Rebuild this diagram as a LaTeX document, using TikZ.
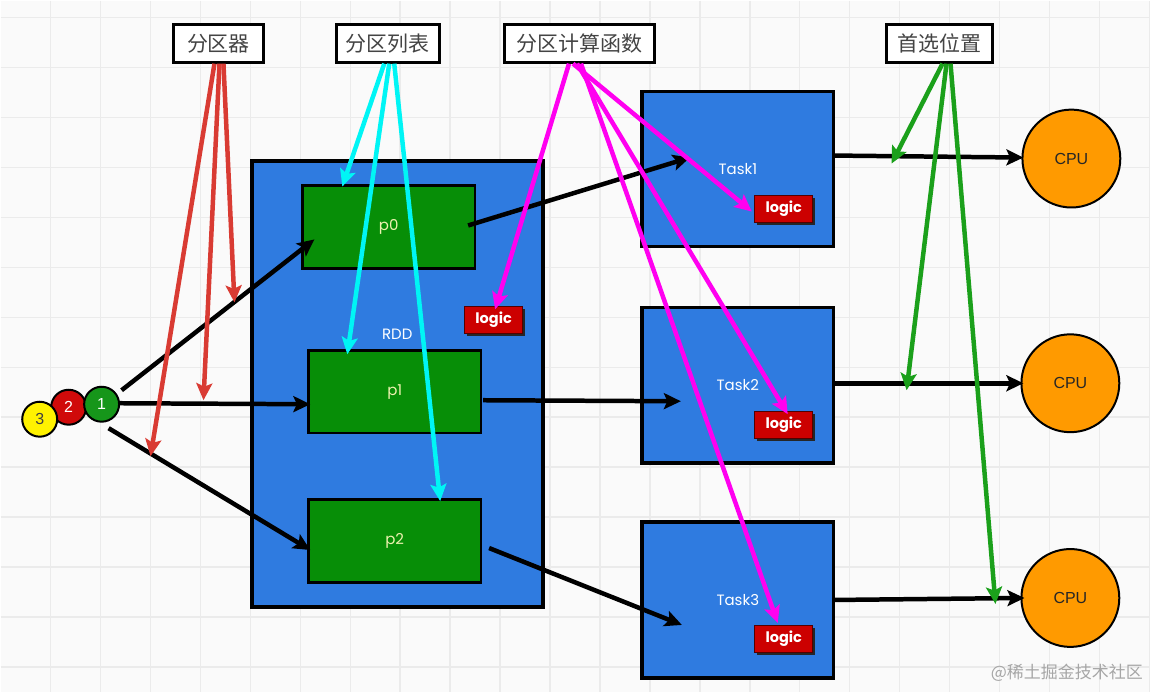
\documentclass[tikz,border=0pt]{standalone}
\usepackage{fontspec}
\setmainfont{Liberation Sans}
\newfontfamily\cjk{Noto Sans CJK SC}
\newfontfamily\pop{Poppins}
\usetikzlibrary{arrows.meta,shadows}
\definecolor{bg}{HTML}{FAFAFA}
\definecolor{gridc}{HTML}{EBEBEB}
\definecolor{rddblue}{HTML}{2F7BE0}
\definecolor{pgreen}{HTML}{078E07}
\definecolor{pyellow}{HTML}{EEF2B0}
\definecolor{logicred}{HTML}{CC0000}
\definecolor{cpuorange}{HTML}{FF9A00}
\definecolor{arrred}{HTML}{D93B33}
\definecolor{arrgreen}{HTML}{1BA01B}
\definecolor{arrcyan}{HTML}{00F5F5}
\definecolor{arrmag}{HTML}{FF00F0}
\definecolor{lbltext}{HTML}{444444}
\definecolor{ballred}{HTML}{D00A0A}
\definecolor{ballgreen}{HTML}{16961A}
\definecolor{ballyellow}{HTML}{FFF200}
\begin{document}
\begin{tikzpicture}[x=1pt,y=-1pt,
 lbl/.style={draw=black,line width=3pt,fill=white,inner sep=0pt,font=\cjk\fontsize{21}{21}\selectfont,text=lbltext,minimum height=38pt},
 rddbox/.style={draw=black,line width=4pt,fill=rddblue,inner sep=0pt},
 part/.style={draw=black,line width=2.5pt,fill=pgreen,inner sep=0pt,minimum width=173pt,minimum height=83pt,font=\pop\fontsize{15}{15}\selectfont,text=pyellow},
 task/.style={draw=black,line width=3.5pt,fill=rddblue,minimum width=192pt,minimum height=155pt,inner sep=0pt,font=\pop\fontsize{15}{15}\selectfont,text=white},
 logicbox/.style={draw=black!60!logicred,line width=1pt,fill=logicred,minimum width=58pt,minimum height=27pt,inner sep=0pt,font=\pop\bfseries\fontsize{14.5}{14.5}\selectfont,text=white,general shadow={fill=black!85,shadow xshift=2.5pt,shadow yshift=-3pt}},
 cpu/.style={circle,draw=black,line width=2pt,fill=cpuorange,minimum size=98pt,inner sep=0pt,font=\fontsize{16}{16}\selectfont,text=black!85},
 ball/.style={circle,draw=black,line width=2pt,minimum size=35pt,inner sep=0pt,font=\fontsize{16}{16}\selectfont},
 conn/.style={line width=4.5pt,-{Stealth[length=17pt,width=16pt,inset=3.5pt]}},
]
\fill[bg] (0,0) rectangle (1151,692);
\foreach \x in {50,100,...,1150} \draw[gridc,line width=1.5pt] (\x,0) -- (\x,692);
\foreach \y in {17,67,...,667} \draw[gridc,line width=1.5pt] (0,\y) -- (1151,\y);
\useasboundingbox (0,0) rectangle (1151,692);

% RDD and partitions
\node[rddbox,minimum width=291pt,minimum height=447pt] (rdd) at (397.5,383.5) {};
\node[font=\pop\fontsize{15}{15}\selectfont,text=white] (rddlbl) at (397,334) {RDD};
\node[part] (p0) at (388.5,226.5) {p0};
\node[part] (p1) at (394.5,391.5) {p1};
\node[part] (p2) at (394.5,541) {p2};
\node[logicbox] (lg0) at (493.5,319.5) {logic};

% tasks
\node[task] (t1) at (738,168.5) {Task1};
\node[task,minimum height=156pt] (t2) at (738,385) {Task2};
\node[task,minimum height=156pt] (t3) at (738,600) {Task3};
\node[logicbox] (lg1) at (784,208.5) {logic};
\node[logicbox] (lg2) at (784,424.5) {logic};
\node[logicbox] (lg3) at (784,639) {logic};

% CPUs
\node[cpu] (c1) at (1072,158) {CPU};
\node[cpu] (c2) at (1071,383) {CPU};
\node[cpu] (c3) at (1071,598) {CPU};

% balls
\node[ball,fill=ballred,text=white] (b2) at (68,407) {2};
\node[ball,fill=ballgreen,text=white] (b1) at (101,404) {1};
\node[ball,fill=ballyellow,text=black!75] (b3) at (39,419) {3};

% labels
\node[lbl,minimum width=90pt] (L1) at (218,43) {分区器};
\node[lbl,minimum width=103pt] (L2) at (387.5,43) {分区列表};
\node[lbl,minimum width=151pt] (L3) at (579.5,42.5) {分区计算函数};
\node[lbl,minimum width=106pt] (L4) at (940,43) {首选位置};

% watermark
\node[anchor=east,font=\cjk\fontsize{17}{17}\selectfont,text=black!35] (wm) at (1147,673) {@稀土掘金技术社区};

% coordinates
\coordinate (b1a) at (121,390);
\coordinate (b1b) at (119,403);
\coordinate (b1c) at (108,428);
\coordinate (p0in) at (314,239);
\coordinate (p1in) at (310,404);
\coordinate (p2in) at (310,550);
\coordinate (p0out) at (468,225);
\coordinate (p1out) at (483,400);
\coordinate (p2out) at (489,548);
\coordinate (t1in) at (690,157);
\coordinate (t2in) at (681,401);
\coordinate (t3in) at (682,625);
\coordinate (t1out) at (834,155);
\coordinate (t2out) at (834,383);
\coordinate (t3out) at (834,600);
\coordinate (c1in) at (1024,157);
\coordinate (c2in) at (1024,383);
\coordinate (c3in) at (1025,598);

\coordinate (r0) at (214,63);
\coordinate (r1) at (219,63);
\coordinate (r2) at (223,63);
\coordinate (rt1) at (150,456);
\coordinate (rt2) at (203,400);
\coordinate (rt3) at (234,302);

\coordinate (cy0) at (384,63);
\coordinate (cy1) at (389,63);
\coordinate (cy2) at (394,63);
\coordinate (cyt1) at (342,186);
\coordinate (cyt2) at (347,354);
\coordinate (cyt3) at (440,501);

\coordinate (m0) at (569,63);
\coordinate (m1) at (573,63);
\coordinate (m2) at (577,63);
\coordinate (m3) at (581,63);
\coordinate (mt0) at (495,309);
\coordinate (mt1) at (752,211);
\coordinate (mt2) at (788,414);
\coordinate (mt3) at (778,623);

\coordinate (g0) at (943,63);
\coordinate (g1) at (947,63);
\coordinate (g2) at (951,63);
\coordinate (gt1) at (892,163);
\coordinate (gt2) at (907,390);
\coordinate (gt3) at (996,604);

% black arrows
\draw[conn] (b1a) -- (p0in);
\draw[conn] (b1b) -- (p1in);
\draw[conn] (b1c) -- (p2in);
\draw[conn] (p0out) -- (t1in);
\draw[conn] (p1out) -- (t2in);
\draw[conn] (p2out) -- (t3in);
\draw[conn] (t1out) -- (c1in);
\draw[conn] (t2out) -- (c2in);
\draw[conn] (t3out) -- (c3in);

% red
\draw[conn,arrred] (r0) -- (rt1);
\draw[conn,arrred] (r1) -- (rt2);
\draw[conn,arrred] (r2) -- (rt3);
% cyan
\draw[conn,arrcyan] (cy0) -- (cyt1);
\draw[conn,arrcyan] (cy1) -- (cyt2);
\draw[conn,arrcyan] (cy2) -- (cyt3);
% magenta
\draw[conn,arrmag] (m0) -- (mt0);
\draw[conn,arrmag] (m1) -- (mt1);
\draw[conn,arrmag] (m2) -- (mt2);
\draw[conn,arrmag] (m3) -- (mt3);
% green
\draw[conn,arrgreen] (g0) -- (gt1);
\draw[conn,arrgreen] (g1) -- (gt2);
\draw[conn,arrgreen] (g2) -- (gt3);
\end{tikzpicture}
\end{document}
